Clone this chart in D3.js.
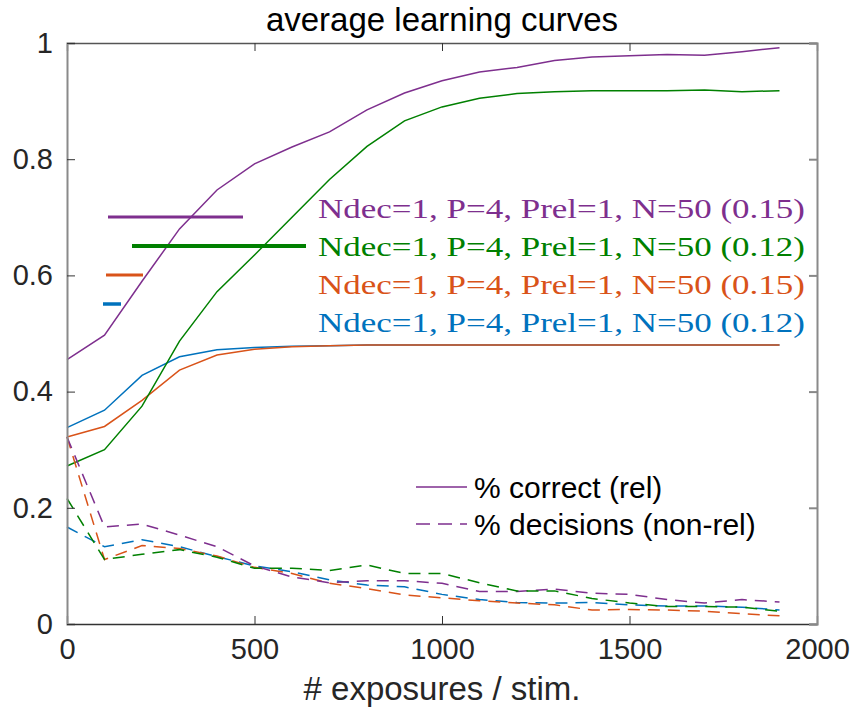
<!DOCTYPE html>
<html>
<head>
<meta charset="utf-8">
<script src="https://cdn.jsdelivr.net/npm/d3@7"></script>
<style>
  body { margin: 0; background: #fff; }
  svg { display: block; }
</style>
</head>
<body>
<div id="chart"></div>
<script>
// data
const exposures = [0,100,200,300,400,500,600,700,800,900,1000,1100,1200,1300,1400,1500,1600,1700,1800,1900]

const correctPurple = [0.455,0.497,0.59,0.68,0.747,0.792,0.821,0.847,0.885,0.914,0.935,0.95,0.958,0.97,0.976,0.978,0.98,0.979,0.985,0.992]
const correctGreen  = [0.272,0.30,0.375,0.487,0.572,0.635,0.70,0.765,0.822,0.866,0.89,0.905,0.913,0.916,0.918,0.918,0.918,0.919,0.916,0.918]
const correctBlue   = [0.338,0.368,0.428,0.46,0.472,0.476,0.478,0.479,0.48,0.48,0.48,0.48,0.48,0.48,0.48,0.48,0.48,0.48,0.48,0.48]
const correctOrange = [0.322,0.34,0.385,0.437,0.463,0.473,0.477,0.479,0.48,0.48,0.48,0.48,0.48,0.48,0.48,0.48,0.48,0.48,0.48,0.48]

const decPurple = [0.322,0.167,0.172,0.153,0.133,0.10,0.081,0.071,0.0745,0.0745,0.07,0.056,0.056,0.06,0.053,0.051,0.042,0.036,0.042,0.038]
const decGreen  = [0.216,0.111,0.12,0.128,0.115,0.096,0.096,0.092,0.1015,0.087,0.087,0.071,0.057,0.057,0.044,0.036,0.030,0.030,0.029,0.022]
const decBlue   = [0.167,0.133,0.145,0.133,0.116,0.10,0.09,0.076,0.067,0.064,0.051,0.042,0.037,0.036,0.037,0.033,0.031,0.031,0.029,0.024]
const decOrange = [0.322,0.111,0.135,0.130,0.117,0.0975,0.087,0.07,0.061,0.05,0.045,0.040,0.036,0.033,0.024,0.025,0.024,0.022,0.018,0.014]

const xTicks = [0,500,1000,1500,2000]
const yTicks = [0,0.2,0.4,0.6,0.8,1]

const legendLabels = [
  "Ndec=1, P=4, Prel=1, N=50 (0.15)",
  "Ndec=1, P=4, Prel=1, N=50 (0.12)",
  "Ndec=1, P=4, Prel=1, N=50 (0.15)",
  "Ndec=1, P=4, Prel=1, N=50 (0.12)"
]
const styleLabels = ["% correct (rel)", "% decisions (non-rel)"]

const blue = "#0072BD", orange = "#D95319", purple = "#7E2F8E", green = "#008000"
const sans = "Liberation Sans, Arial, Helvetica, sans-serif"

const width = 852, height = 717
const margin = {top: 43, right: 35, bottom: 93, left: 67}

const svg = d3.select("#chart").append("svg")
    .attr("width", width)
    .attr("height", height)

const x = d3.scaleLinear().domain([0, 2000]).range([margin.left, width - margin.right])
const y = d3.scaleLinear().domain([0, 1]).range([height - margin.bottom, margin.top])

const line = d3.line()
    .x((d, i) => x(exposures[i]))
    .y(d => y(d))

// curves: blue and orange first so orange sits on top at 0.48
const series = [
  {v: correctBlue, c: blue, dash: null},
  {v: correctOrange, c: orange, dash: null},
  {v: correctPurple, c: purple, dash: null},
  {v: correctGreen, c: green, dash: null},
  {v: decBlue, c: blue, dash: "12,8"},
  {v: decOrange, c: orange, dash: "12,8"},
  {v: decPurple, c: purple, dash: "12,8"},
  {v: decGreen, c: green, dash: "12,8"}
]

svg.selectAll(".curve").data(series)
  .enter().append("path")
    .attr("class", "curve")
    .attr("d", d => line(d.v))
    .attr("fill", "none")
    .attr("stroke", d => d.c)
    .attr("stroke-width", 1.5)
    .attr("stroke-dasharray", d => d.dash)

// axes box
const x0 = x.range()[0], x1 = x.range()[1], y0 = y.range()[0], y1 = y.range()[1]

svg.append("g")
    .attr("transform", "translate(0," + y0 + ")")
    .call(d3.axisBottom(x).tickValues(xTicks).tickSize(-8).tickPadding(14).tickFormat(d3.format("d")))
    .call(g => g.select(".domain").attr("stroke", "#333").attr("stroke-width", 1.3))
    .call(g => g.selectAll(".tick line").attr("stroke", "#333"))
    .call(g => g.selectAll(".tick text").attr("font-size", 29).attr("fill", "#262626")
      .attr("font-family", sans))

svg.append("g")
    .attr("transform", "translate(0," + y1 + ")")
    .call(d3.axisTop(x).tickValues(xTicks).tickSize(-8).tickFormat(""))
    .call(g => g.select(".domain").attr("stroke", "#555").attr("stroke-width", 1.3))
    .call(g => g.selectAll(".tick line").attr("stroke", "#333"))

svg.append("g")
    .attr("transform", "translate(" + x0 + ",0)")
    .call(d3.axisLeft(y).tickValues(yTicks).tickSize(-8).tickPadding(14).tickFormat(d => d === 0 || d === 1 ? d3.format("d")(d) : d3.format(".1f")(d)))
    .call(g => g.select(".domain").attr("stroke", "#8a8a8a").attr("stroke-width", 2))
    .call(g => g.selectAll(".tick line").attr("stroke", "#333"))
    .call(g => g.selectAll(".tick text").attr("font-size", 29).attr("fill", "#262626")
      .attr("font-family", sans))

svg.append("g")
    .attr("transform", "translate(" + x1 + ",0)")
    .call(d3.axisRight(y).tickValues(yTicks).tickSize(-8).tickFormat(""))
    .call(g => g.select(".domain").attr("stroke", "#8a8a8a").attr("stroke-width", 2))
    .call(g => g.selectAll(".tick line").attr("stroke", "#888").attr("stroke-width", 2))

// title and x label
svg.append("text")
    .attr("x", (x0 + x1) / 2).attr("y", 31)
    .attr("text-anchor", "middle")
    .attr("font-family", sans)
    .attr("font-size", 33)
    .attr("fill", "#000")
    .text("average learning curves")

svg.append("text")
    .attr("x", (x0 + x1) / 2).attr("y", 700)
    .attr("text-anchor", "middle")
    .attr("font-family", sans)
    .attr("font-size", 33)
    .attr("fill", "#262626")
    .text("# exposures / stim.")

// odd legend with mismatched line tokens
const legendBars = [
  {x1: 108, x2: 243, y: 217, c: purple, w: 3},
  {x1: 132, x2: 306, y: 246, c: green, w: 4},
  {x1: 106, x2: 143, y: 275, c: orange, w: 3},
  {x1: 103, x2: 121, y: 304, c: blue, w: 3.5}
]
svg.selectAll(".legend-bar").data(legendBars)
  .enter().append("line")
    .attr("class", "legend-bar")
    .attr("x1", d => d.x1).attr("x2", d => d.x2)
    .attr("y1", d => d.y).attr("y2", d => d.y)
    .attr("stroke", d => d.c)
    .attr("stroke-width", d => d.w)

svg.selectAll(".legend-text").data(legendLabels)
  .enter().append("text")
    .attr("class", "legend-text")
    .attr("x", 318)
    .attr("y", (d, i) => 218 + i * 38)
    .attr("font-family", "Liberation Serif, DejaVu Serif, serif")
    .attr("font-size", 28)
    .attr("textLength", 487)
    .attr("lengthAdjust", "spacingAndGlyphs")
    .attr("fill", (d, i) => legendBars[i].c)
    .text(d => d)

// style legend
const styleLegend = svg.selectAll(".style-entry").data(styleLabels)
  .enter().append("g")
    .attr("class", "style-entry")
    .attr("transform", (d, i) => "translate(0," + (487 + i * 37) + ")")

styleLegend.append("line")
    .attr("x1", 416).attr("x2", 467)
    .attr("stroke", purple)
    .attr("stroke-width", 1.5)
    .attr("stroke-dasharray", (d, i) => i === 1 ? "14,8" : null)

styleLegend.append("text")
    .attr("x", 474)
    .attr("dy", "0.35em")
    .attr("font-family", sans)
    .attr("font-size", 30)
    .attr("fill", "#000")
    .text(d => d)
</script>
</body>
</html>
